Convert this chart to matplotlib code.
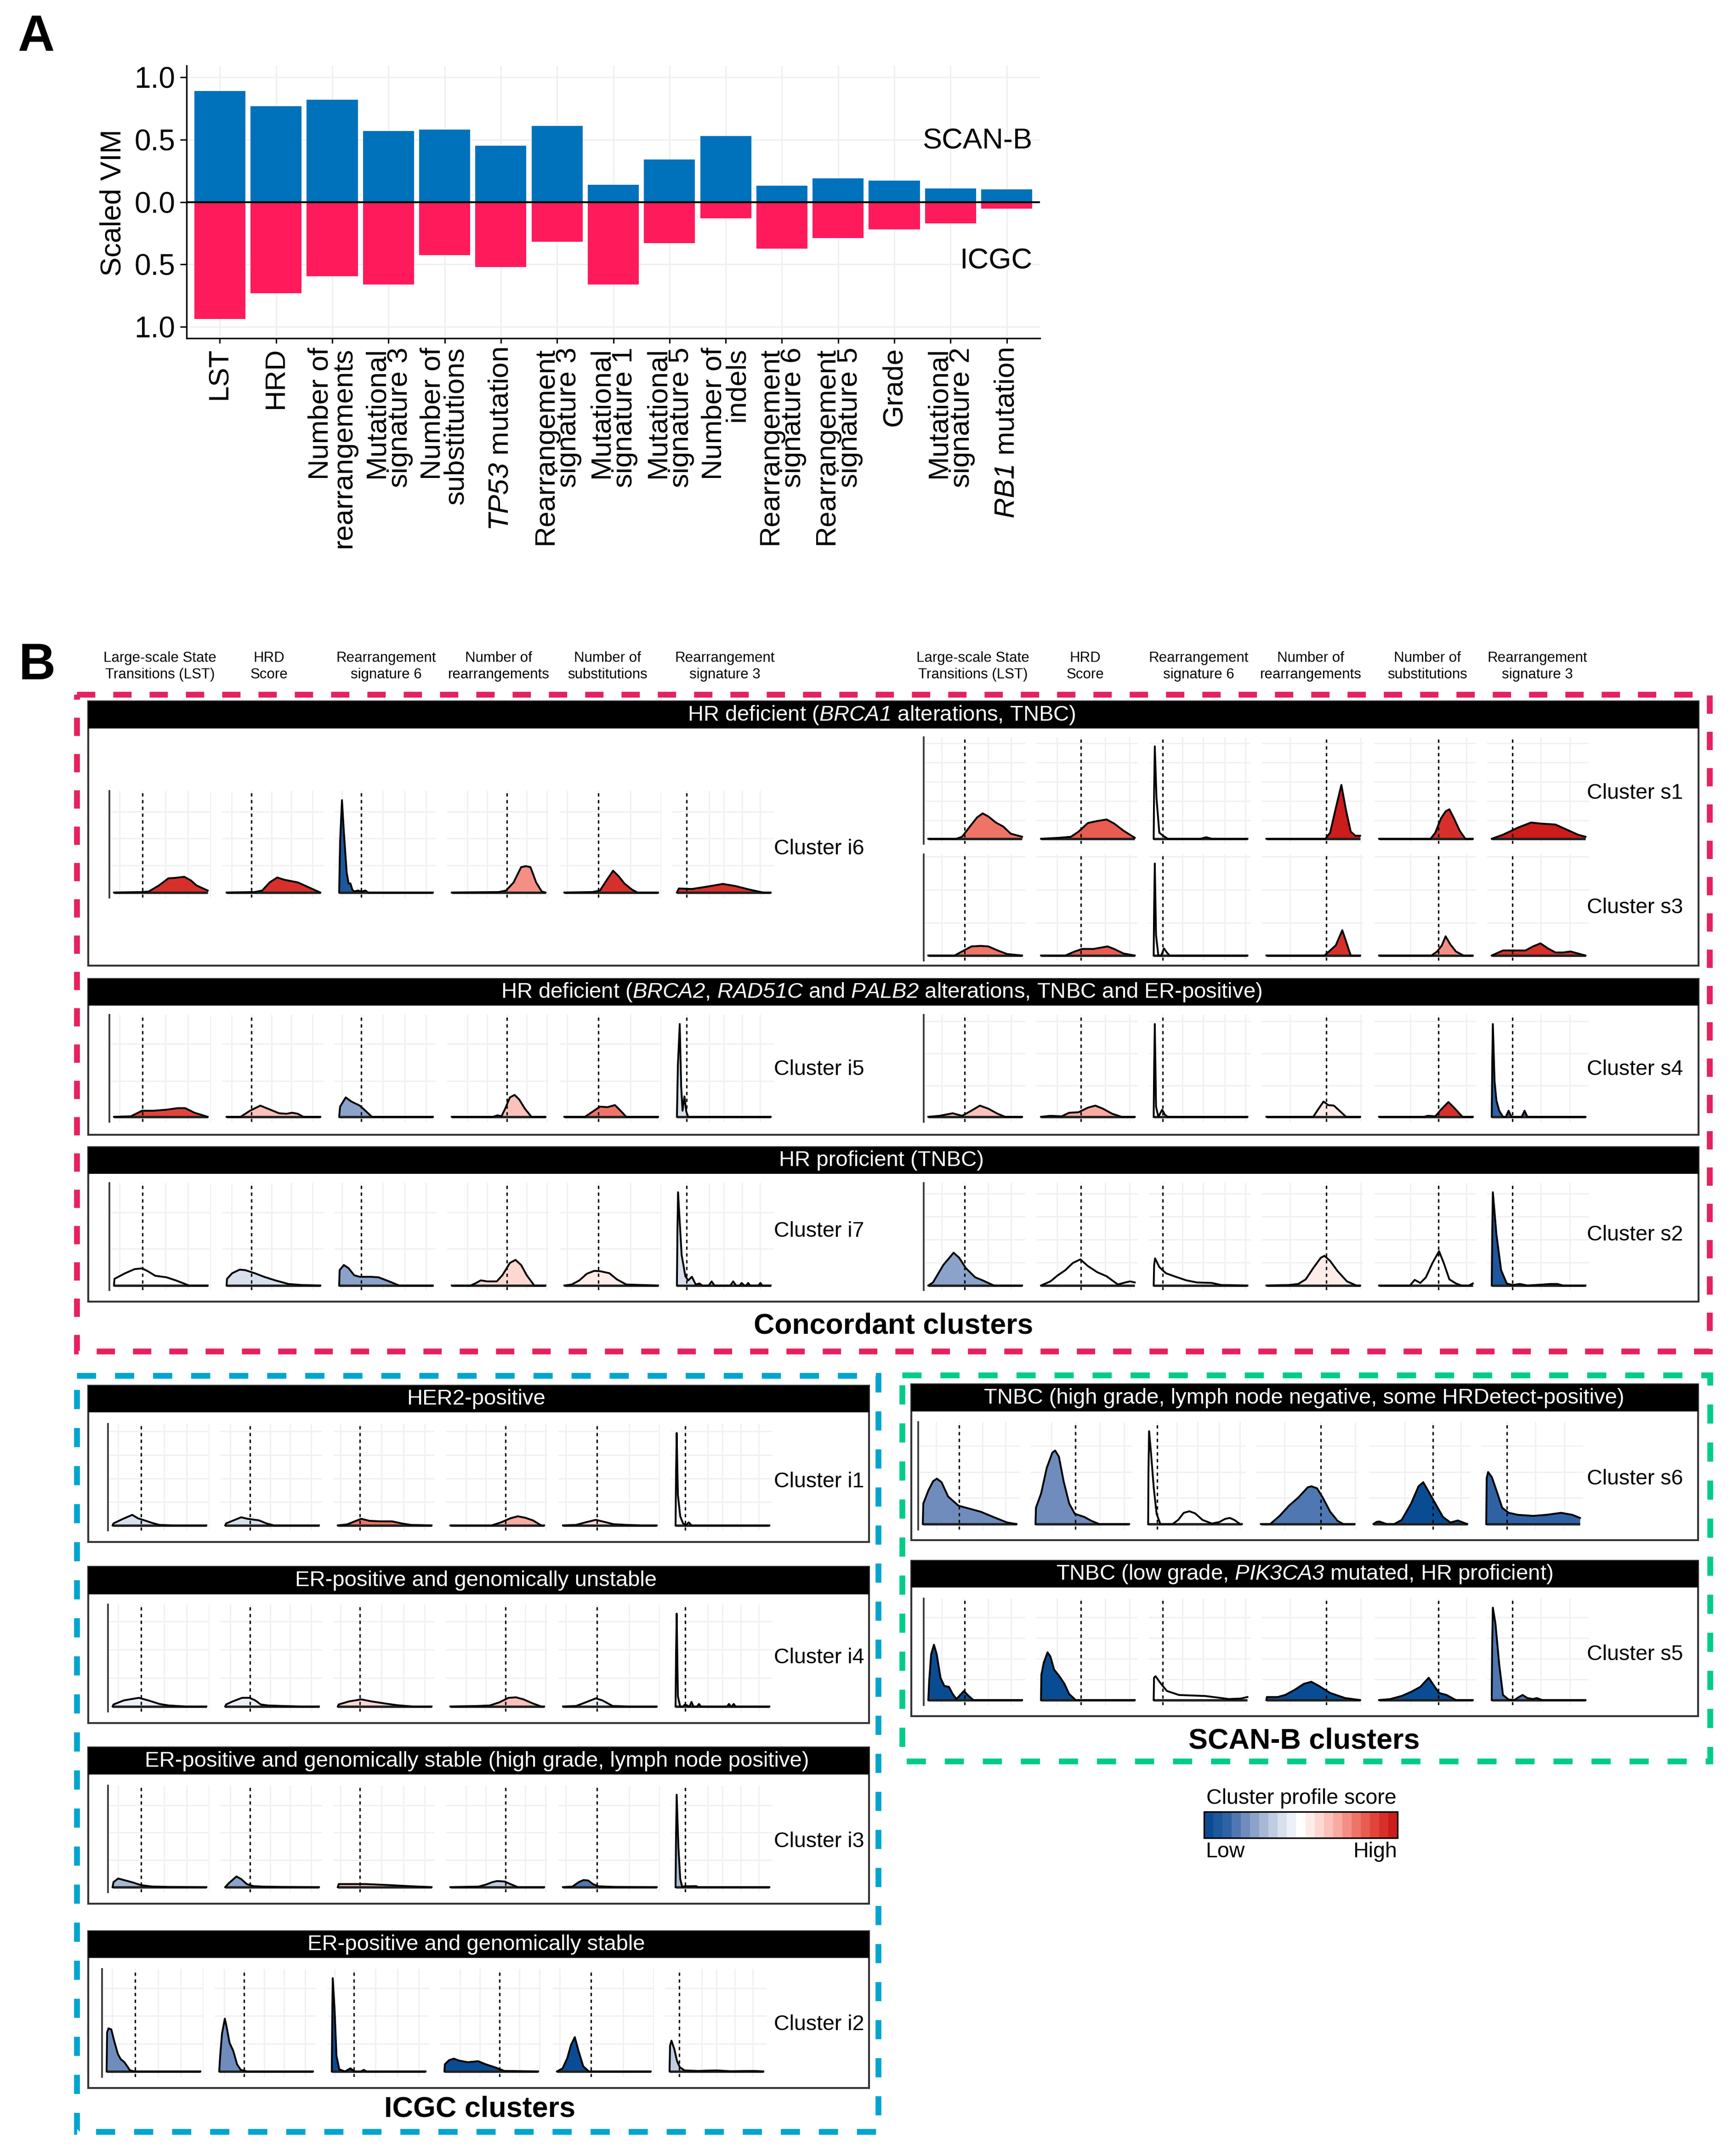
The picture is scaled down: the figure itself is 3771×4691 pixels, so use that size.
import matplotlib
matplotlib.use("Agg")
import matplotlib.pyplot as plt
from matplotlib.cm import ScalarMappable
from matplotlib.colors import LinearSegmentedColormap, Normalize
from matplotlib.patches import Rectangle

W, H = 3771, 4691
FONT = "Liberation Sans"

plt.rcParams["font.family"] = [FONT, "DejaVu Sans"]
plt.rcParams["mathtext.fontset"] = "custom"
plt.rcParams["mathtext.rm"] = FONT
plt.rcParams["mathtext.it"] = FONT + ":italic"
plt.rcParams["mathtext.cal"] = FONT + ":italic"

# --------------------------------------------------------------------------- #
# panel A values
# --------------------------------------------------------------------------- #
FEATURES = [
    "LST", "HRD", "Number of\nrearrangements", "Mutational\nsignature 3",
    "Number of\nsubstitutions", r"$\mathcal{TP53}$ mutation",
    "Rearrangement\nsignature 3", "Mutational\nsignature 1",
    "Mutational\nsignature 5", "Number of\nindels",
    "Rearrangement\nsignature 6", "Rearrangement\nsignature 5", "Grade",
    "Mutational\nsignature 2", r"$\mathcal{RB1}$ mutation",
]
SCANB_VIM = [0.89, 0.77, 0.82, 0.57, 0.58, 0.45, 0.61, 0.14, 0.34, 0.53, 0.13, 0.19, 0.17, 0.11, 0.10]
ICGC_VIM = [0.94, 0.73, 0.595, 0.66, 0.425, 0.52, 0.32, 0.66, 0.33, 0.13, 0.375, 0.29, 0.22, 0.17, 0.055]
VIM_TICKS = [-1.0, -0.5, 0.0, 0.5, 1.0]
VIM_TICK_LABELS = ["1.0", "0.5", "0.0", "0.5", "1.0"]

# --------------------------------------------------------------------------- #
# panel B values: column names, cutoffs, x gridlines (scaled x of one ridge)
# --------------------------------------------------------------------------- #
COLUMN_NAMES = [
    "Large-scale State\nTransitions (LST)", "HRD\nScore", "Rearrangement\nsignature 6",
    "Number of\nrearrangements", "Number of\nsubstitutions", "Rearrangement\nsignature 3",
]
CUTOFF_I = [0.304, 0.265, 0.235, 0.588, 0.363, 0.103]
CUTOFF_S = [0.387, 0.426, 0.098, 0.637, 0.632, 0.221]
XGRID_I = [
    [0.06, 0.304, 0.55, 0.79, 1.03], [0.054, 0.265, 0.48, 0.69, 0.917],
    [0.03, 0.235, 0.466, 0.70, 0.926], [0.167, 0.377, 0.588, 0.80, 1.015],
    [0.03, 0.363, 0.706, 1.03], [0.103, 0.343, 0.5, 0.696, 0.887],
]
XGRID_S = [
    [0.142, 0.387, 0.637, 0.882], [0.172, 0.426, 0.686, 0.946],
    [0.098, 0.309, 0.529, 0.76, 0.98], [0.25, 0.637, 1.005],
    [0.333, 0.632, 0.931], [0.221, 0.525, 0.833],
]

# cluster profile score per column, -1 (low) to 1 (high)
SCORE_I6 = [0.9, 0.9, -0.85, 0.5, 0.9, 0.9]
SCORE_I5 = [0.8, 0.3, -0.45, 0.3, 0.55, -0.2]
SCORE_I7 = [0.0, -0.18, -0.5, 0.2, 0.12, -0.22]
SCORE_I1 = [-0.2, -0.2, 0.6, 0.35, 0.2, -0.1]
SCORE_I4 = [-0.06, -0.08, 0.2, 0.32, -0.1, -0.15]
SCORE_I3 = [-0.4, -0.45, 0.25, -0.3, -0.7, -0.35]
SCORE_I2 = [-0.6, -0.55, -1.0, -0.95, -0.98, -0.25]
SCORE_S1 = [0.6, 0.65, 0.0, 0.95, 0.85, 0.95]
SCORE_S3 = [0.6, 0.7, 0.0, 0.85, 0.5, 0.85]
SCORE_S4 = [0.25, 0.35, 0.0, 0.05, 0.9, -0.8]
SCORE_S2 = [-0.45, 0.02, 0.0, 0.07, 0.0, -0.85]
SCORE_S6 = [-0.55, -0.6, 0.0, -0.7, -0.95, -0.75]
SCORE_S5 = [-1.0, -1.0, 0.0, -1.0, -1.0, -0.7]

# ridge outlines, one (x, density) pair per column
RIDGE_I6 = [
    ([0, .3, .37, .48, .58, .66, .75, .82, .88, 1], [0, .005, .01, .07, .14, .145, .155, .12, .07, .02]),
    ([0, .3, .38, .46, .54, .62, .76, .88, 1], [0, .005, .02, .1, .148, .125, .1, .05, 0]),
    ([0, .01, .03, .05, .08, .1, .12, .14, .16, .2, .24, .28, .31, 1], [0, .5, .91, .6, .2, .09, .09, .03, .01, .02, .01, .02, 0, 0]),
    ([0, .5, .58, .66, .74, .79, .84, .9, .96, 1], [0, .005, .02, .1, .25, .26, .25, .1, .01, 0]),
    ([0, .3, .38, .45, .52, .58, .64, .72, .78, 1], [0, .005, .02, .12, .215, .16, .09, .03, 0, 0]),
    ([0, .02, .16, .3, .49, .62, .77, .92, 1], [0, .04, .035, .055, .085, .065, .03, 0, 0]),
]
RIDGE_I5 = [
    ([0, .18, .3, .42, .56, .68, .76, .86, 1], [0, .005, .06, .06, .07, .085, .085, .04, 0]),
    ([0, .15, .25, .36, .44, .56, .64, .7, .76, .82, 1], [0, 0, .06, .11, .08, .035, .03, .04, .03, 0, 0]),
    ([0, .01, .07, .13, .22, .28, .35, 1], [0, .1, .19, .15, .11, .06, 0, 0]),
    ([0, .44, .49, .53, .57, .62, .67, .72, .78, .85, 1], [0, 0, .015, .005, .08, .19, .215, .17, .08, 0, 0]),
    ([0, .22, .3, .38, .46, .54, .6, .66, 1], [0, 0, .05, .1, .095, .115, .06, 0, 0]),
    ([0, .01, .03, .045, .06, .08, .1, .12, 1], [0, .5, .91, .3, .06, .2, .05, 0, 0]),
]
RIDGE_I7 = [
    ([0, .005, .12, .22, .3, .36, .44, .56, .66, .8, 1], [0, .065, .12, .16, .167, .14, .095, .08, .05, 0, 0]),
    ([0, .005, .06, .14, .2, .3, .4, .52, .66, .8, 1], [0, .065, .12, .155, .15, .12, .085, .05, .015, .005, 0]),
    ([0, .005, .05, .1, .16, .22, .34, .42, .52, .64, 1], [0, .15, .2, .17, .1, .085, .085, .08, .045, 0, 0]),
    ([0, .2, .25, .31, .38, .48, .54, .62, .68, .74, .8, .88, 1], [0, 0, .02, .05, .04, .04, .1, .22, .25, .2, .1, 0, 0]),
    ([0, .08, .16, .24, .32, .38, .48, .56, .66, 1], [0, .01, .05, .115, .143, .14, .12, .06, .01, 0]),
    ([0, .005, .012, .05, .09, .12, .16, .2, .24, .27, .34, .37, .4, .57, .6, .63, .67, .69, .72, .74, .76, .78, .87, .89, .91, 1],
     [0, .5, .91, .3, .09, .05, .085, .01, .02, 0, 0, .04, 0, 0, .04, 0, 0, .025, 0, 0, .025, 0, 0, .025, 0, 0]),
]
RIDGE_I1 = [
    ([0, .01, .1, .21, .27, .34, .42, .5, .64, 1], [0, .02, .06, .104, .07, .05, .025, .005, 0, 0]),
    ([0, .01, .09, .17, .24, .36, .44, .52, 1], [0, .02, .05, .08, .065, .05, .02, 0, 0]),
    ([0, .1, .18, .25, .34, .46, .58, .68, .78, 1], [0, .01, .04, .065, .045, .04, .04, .02, .005, 0]),
    ([0, .44, .54, .64, .72, .8, .88, .97, 1], [0, 0, .03, .07, .09, .075, .05, 0, 0]),
    ([0, .14, .24, .35, .44, .54, .68, .84, 1], [0, .005, .03, .055, .035, .012, .005, 0, 0]),
    ([0, .005, .012, .025, .05, .08, .11, .14, .17, 1], [0, .5, .91, .3, .09, .02, 0, .03, 0, 0]),
]
RIDGE_I4 = [
    ([0, .01, .12, .28, .38, .5, .6, .78, 1], [0, .02, .06, .085, .06, .025, .01, 0, 0]),
    ([0, .01, .08, .18, .26, .32, .38, .46, .62, .8, 1], [0, .02, .05, .085, .085, .06, .02, .01, .005, 0, 0]),
    ([0, .01, .12, .25, .36, .5, .64, .8, 1], [0, .02, .05, .07, .05, .03, .012, 0, 0]),
    ([0, .28, .42, .52, .62, .7, .78, .88, .97, 1], [0, .005, .01, .04, .085, .09, .07, .03, 0, 0]),
    ([0, .14, .24, .35, .42, .53, .7, 1], [0, .005, .04, .08, .06, .005, 0, 0]),
    ([0, .005, .012, .025, .05, .08, .1, .15, .17, .19, .23, .25, .27, .55, .57, .59, .6, .62, .64, 1],
     [0, .5, .91, .1, 0, 0, .02, 0, .045, 0, 0, .025, 0, 0, .025, 0, 0, .025, 0, 0]),
]
RIDGE_I3 = [
    ([0, .01, .06, .14, .22, .3, .42, .6, 1], [0, .05, .085, .065, .045, .02, .006, .002, 0]),
    ([0, .04, .12, .17, .23, .3, .4, .6, 1], [0, .04, .105, .08, .03, .01, .005, .002, 0]),
    ([0, .01, .3, .55, .8, 1], [0, .03, .03, .02, .008, 0]),
    ([0, .3, .38, .45, .5, .58, .64, .72, 1], [0, .005, .025, .05, .06, .055, .03, 0, 0]),
    ([0, .1, .17, .22, .27, .32, .38, .55, 1], [0, .005, .05, .07, .065, .03, .008, .002, 0]),
    ([0, .005, .012, .03, .05, .07, .1, .22, .24, 1], [0, .5, .91, .4, .08, .005, .008, .01, 0, 0]),
]
RIDGE_I2 = [
    ([0, .005, .02, .05, .08, .12, .15, .19, .25, .3, 1], [0, .38, .42, .41, .3, .17, .12, .09, .01, 0, 0]),
    ([0, .01, .03, .06, .08, .11, .15, .19, .23, .3, 1], [0, .15, .37, .515, .43, .28, .2, .07, .015, 0, 0]),
    ([0, .004, .01, .03, .05, .08, .14, .2, .24, .31, .34, .37, 1], [0, .5, .91, .6, .15, .02, 0, .03, 0, 0, .015, 0, 0]),
    ([0, .005, .05, .1, .16, .25, .36, .44, .54, .64, 1], [0, .07, .11, .125, .105, .09, .1, .07, .04, .005, 0]),
    ([0, .02, .06, .11, .15, .19, .23, .28, .34, 1], [0, .01, .03, .13, .26, .335, .2, .05, 0, 0]),
    ([0, .005, .02, .05, .08, .11, .16, .3, .5, .65, .9, 1], [0, .25, .3, .22, .1, .04, .01, .005, .01, .002, .005, 0]),
]
RIDGE_S1 = [
    ([0, .3, .36, .46, .52, .58, .64, .72, .8, .88, 1], [0, 0, .02, .14, .21, .25, .22, .16, .12, .05, .02]),
    ([0, .2, .32, .4, .5, .6, .7, .78, .88, 1], [0, .01, .02, .07, .155, .175, .19, .15, .08, .01]),
    ([0, .005, .012, .03, .06, .1, .15, .5, .56, .62, 1], [0, .5, .91, .4, .06, .03, 0, 0, .015, 0, 0]),
    ([0, .63, .68, .74, .8, .85, .9, .95, 1], [0, 0, .06, .3, .53, .28, .07, .03, .03]),
    ([0, .55, .6, .66, .71, .75, .8, .86, .92, 1], [0, 0, .06, .2, .27, .29, .2, .08, 0, 0]),
    ([0, .12, .28, .42, .52, .68, .8, .92, 1], [0, .04, .11, .16, .15, .14, .09, .04, .02]),
]
RIDGE_S3 = [
    ([0, .28, .36, .46, .56, .64, .74, .84, 1], [0, 0, .04, .09, .095, .09, .05, .015, 0]),
    ([0, .26, .36, .44, .56, .65, .71, .78, .88, 1], [0, 0, .04, .065, .065, .08, .09, .065, .02, 0]),
    ([0, .005, .012, .025, .05, .08, .11, .14, .17, 1], [0, .5, .91, .2, 0, 0, .07, .03, 0, 0]),
    ([0, .62, .68, .74, .81, .85, .9, 1], [0, 0, .05, .1, .25, .14, 0, 0]),
    ([0, .56, .62, .67, .71, .76, .82, .9, 1], [0, 0, .04, .1, .19, .11, .04, 0, 0]),
    ([0, .12, .24, .36, .44, .52, .6, .68, .76, .84, .92, 1], [0, .05, .05, .05, .09, .12, .07, .03, .03, .04, .02, 0]),
]
RIDGE_S4 = [
    ([0, .12, .26, .36, .44, .55, .64, .74, .82, 1], [0, .01, .035, .01, .05, .11, .08, .03, 0, 0]),
    ([0, .1, .22, .3, .4, .5, .58, .66, .76, .86, 1], [0, .01, .005, .04, .045, .09, .11, .08, .03, 0, 0]),
    ([0, .005, .012, .025, .05, .09, .12, .15, 1], [0, .5, .91, .1, 0, .07, .02, 0, 0]),
    ([0, .5, .55, .61, .66, .72, .78, .85, 1], [0, 0, .07, .15, .115, .11, .06, 0, 0]),
    ([0, .48, .52, .6, .66, .74, .8, .89, 1], [0, 0, .01, .005, .07, .145, .09, 0, 0]),
    ([0, .005, .012, .03, .05, .08, .12, .15, .18, .21, .32, .35, .38, 1], [0, .5, .91, .35, .16, .06, 0, 0, .06, 0, 0, .06, 0, 0]),
]
RIDGE_S2 = [
    ([0, .05, .16, .27, .33, .4, .5, .58, .7, 1], [0, .03, .2, .32, .27, .17, .08, .05, 0, 0]),
    ([0, .1, .18, .26, .34, .42, .5, .6, .7, .82, .9, .95, 1], [0, .04, .1, .15, .22, .255, .19, .13, .09, .01, .03, .04, .03]),
    ([0, .005, .015, .06, .13, .22, .35, .46, .62, .72, 1], [0, .2, .265, .18, .12, .09, .05, .03, .025, .005, 0]),
    ([0, .24, .34, .42, .5, .58, .62, .68, .76, .86, .96, 1], [0, .005, .015, .06, .17, .27, .29, .24, .14, .04, 0, 0]),
    ([0, .33, .38, .44, .5, .57, .64, .69, .75, .82, .88, .96, 1], [0, 0, .055, .025, .08, .22, .335, .22, .06, .02, 0, 0, .02]),
    ([0, .005, .012, .05, .1, .16, .22, .3, .38, .55, .62, .7, .76, 1], [0, .5, .91, .5, .15, .02, .005, .015, 0, .01, .015, .015, 0, 0]),
]
RIDGE_S6 = [
    ([0, .005, .06, .11, .15, .2, .27, .38, .5, .62, .75, .9, 1], [0, .2, .33, .42, .445, .41, .27, .18, .15, .12, .07, .015, 0]),
    ([0, .005, .06, .12, .18, .21, .25, .3, .36, .42, .52, .6, .68, 1], [0, .16, .3, .55, .7, .72, .66, .42, .2, .1, .07, .03, 0, 0]),
    ([0, .003, .01, .03, .06, .09, .13, .26, .32, .38, .44, .5, .58, .68, .76, .82, .87, .92, .98, 1],
     [0, .5, .91, .7, .35, .1, 0, 0, .04, .11, .125, .105, .04, .005, .02, .05, .06, .04, 0, 0]),
    ([0, .1, .2, .3, .4, .5, .54, .6, .66, .74, .82, .88, 1], [0, 0, .08, .18, .26, .36, .37, .35, .26, .12, .03, 0, 0]),
    ([0, .03, .06, .14, .22, .3, .4, .48, .53, .58, .66, .74, .82, .9, .97, 1], [0, .02, .025, 0, 0, .04, .2, .37, .41, .33, .2, .07, .015, .035, .01, 0]),
    ([0, .005, .02, .06, .12, .17, .24, .34, .5, .64, .8, .92, 1], [0, .45, .51, .46, .3, .16, .11, .09, .08, .09, .11, .09, .06]),
]
RIDGE_S5 = [
    ([0, .01, .03, .06, .09, .13, .17, .22, .26, .3, .34, .38, .42, .48, 1], [0, .2, .45, .545, .45, .22, .14, .13, .06, .01, .05, .09, .05, 0, 0]),
    ([0, .004, .03, .07, .1, .14, .2, .25, .3, .37, 1], [0, .25, .37, .47, .43, .3, .23, .16, .06, 0, 0]),
    ([0, .004, .02, .07, .14, .27, .55, .68, .8, .93, 1], [0, .22, .235, .17, .09, .05, .04, .025, .01, .015, .03]),
    ([0, .005, .12, .2, .3, .4, .48, .56, .68, .84, 1], [0, .03, .03, .05, .1, .16, .18, .14, .07, .02, 0]),
    ([0, .12, .24, .34, .44, .53, .58, .64, .72, .82, 1], [0, .01, .04, .08, .13, .22, .15, .07, .05, 0, 0]),
    ([0, .004, .012, .04, .08, .12, .18, .24, .29, .33, .38, .44, .48, .54, 1], [0, .5, .91, .75, .35, .05, .005, 0, .03, .05, .02, .01, .02, 0, 0]),
]

# profile colours, stepped like the legend
PROFILE_COLOURS = ["#0a4c93", "#2f62a4", "#6f8cbd", "#a7b8d6", "#d8e0ee", "#ffffff",
                   "#fdd8d2", "#f9aaa1", "#ef7468", "#e2443a", "#cc1c1c"]
PROFILE_CMAP = LinearSegmentedColormap.from_list("profile", PROFILE_COLOURS, N=21)
PROFILE_NORM = Normalize(-1, 1)

# --------------------------------------------------------------------------- #
# layout, in pixels of the output picture
# --------------------------------------------------------------------------- #
CELL_W = 204
CELL_STEP_I, CELL_STEP_S = 245.0, 245.2
CELL_X_I, CELL_X_S = 248, 2020
XLO, XHI = -0.05, 1.035
PINK, CYAN, GREEN = "#e5215f", "#00a5cf", "#00cc88"

fig = plt.figure(figsize=(W / 100, H / 100), dpi=100)


def px_axes(left, top, width, height):
    return fig.add_axes([left / W, 1 - (top + height) / H, width / W, height / H])


canvas = px_axes(0, 0, W, H)
canvas.set_xlim(0, W)
canvas.set_ylim(H, 0)
canvas.axis("off")


def dashed_box(x0, y0, x1, y1, color, dash=3.15, gap=3.1):
    canvas.add_patch(Rectangle((x0, y0), x1 - x0, y1 - y0, fill=False, edgecolor=color,
                               linewidth=9.1, linestyle=(0, (dash, gap)), capstyle="butt"))


def strip_panel(x0, x1, head_top, head_bot, bottom, title, title_x=None):
    canvas.add_patch(Rectangle((x0, head_top), x1 - x0, bottom - head_top, fill=False,
                               edgecolor="#333333", linewidth=3.0))
    canvas.add_patch(Rectangle((x0, head_top), x1 - x0, head_bot - head_top,
                               facecolor="black", edgecolor="none"))
    center = (x0 + x1) / 2 if title_x is None else title_x
    canvas.text(center, (head_top + head_bot) / 2, title, color="white",
                fontsize=34, ha="center", va="center")


def ridge_row(ridges, scores, label, label_y, side, shift, top, bottom, base, ygrid):
    """One row of six ridges; side picks the cutoffs and the column positions."""
    if side == "i":
        x0, step, cutoffs, xgrid, label_x = CELL_X_I + shift, CELL_STEP_I, CUTOFF_I, XGRID_I, 1684
    else:
        x0, step, cutoffs, xgrid, label_x = CELL_X_S + shift, CELL_STEP_S, CUTOFF_S, XGRID_S, 3453
    span = base - top
    for i, (xs, ys) in enumerate(ridges):
        left = x0 + i * step + XLO * CELL_W
        ax = px_axes(left, top, (XHI - XLO) * CELL_W, bottom - top)
        ax.set_facecolor("none")
        ax.set_xlim(XLO, XHI)
        ax.set_ylim(-(bottom - base) / span, 1)
        ax.set_xticks(xgrid[i])
        ax.set_yticks([(base - g) / span for g in ygrid])
        ax.grid(True, color="#f1f1f1", linewidth=2.2)
        ax.set_axisbelow(True)
        ax.tick_params(length=0, labelbottom=False, labelleft=False)
        for name, spine in ax.spines.items():
            spine.set_visible(name == "left" and i == 0)
            spine.set_color("#333333")
            spine.set_linewidth(2.6)
        ax.fill_between(xs, ys, 0, color=PROFILE_CMAP(PROFILE_NORM(scores[i])), linewidth=0)
        ax.axvline(cutoffs[i], color="black", linewidth=2.3, linestyle=(0, (2.2, 2.4)))
        ax.hlines(0, 0, 1, color="#222222", linewidth=3.8)
        ax.plot(xs, ys, color="black", linewidth=2.9, solid_joinstyle="round")
    canvas.text(label_x, label_y, label, fontsize=33.5, ha="left", va="center")


# --------------------------------------------------------------------------- #
# panel A
# --------------------------------------------------------------------------- #
canvas.text(38, 110, "A", fontsize=80, fontweight="bold", ha="left", va="baseline")

ax_a = px_axes(406, 143, 2263 - 406, 736 - 143)
ax_a.set_facecolor("none")
positions = list(range(len(FEATURES)))
ax_a.bar(positions, SCANB_VIM, width=0.91, color="#0072bc", zorder=2)
ax_a.bar(positions, [-v for v in ICGC_VIM], width=0.91, color="#ff1a5c", zorder=2)
ax_a.axhline(0, color="black", linewidth=3.0, zorder=3)
ax_a.set_xlim(-0.59, 14.59)
ax_a.set_ylim(-1.093, 1.093)
ax_a.set_yticks(VIM_TICKS)
ax_a.set_yticklabels(VIM_TICK_LABELS, fontsize=46, va="center_baseline")
ax_a.set_xticks(positions)
ax_a.set_xticklabels(FEATURES, fontsize=44.5, rotation=90, ha="center", va="top",
                     ma="right", linespacing=0.85)
ax_a.tick_params(axis="y", length=10, width=2.2, pad=8)
ax_a.tick_params(axis="x", length=8, width=2.2, pad=6)
ax_a.grid(True, color="#f0f0f0", linewidth=2.2)
ax_a.set_axisbelow(True)
for name in ("top", "right"):
    ax_a.spines[name].set_visible(False)
for name in ("left", "bottom"):
    ax_a.spines[name].set_linewidth(2.4)
ax_a.text(14.45, 0.49, "SCAN-B", fontsize=45.5, ha="right", va="center")
ax_a.text(14.45, -0.475, "ICGC", fontsize=45.5, ha="right", va="center")
canvas.text(246, 441, "Scaled VIM", fontsize=45, rotation=90, ha="center", va="center")

# --------------------------------------------------------------------------- #
# panel B: frames and titles first, canvas stays underneath the ridges
# --------------------------------------------------------------------------- #
canvas.text(41, 1478, "B", fontsize=80, fontweight="bold", ha="left", va="baseline")
for center, name in zip([348, 585, 840, 1085, 1322, 1577], COLUMN_NAMES):
    canvas.text(center, 1450, name, fontsize=22.5, ha="center", va="center", linespacing=1.25)
for center, name in zip([2117, 2361, 2608, 2852, 3106, 3345], COLUMN_NAMES):
    canvas.text(center, 1450, name, fontsize=22.5, ha="center", va="center", linespacing=1.25)

dashed_box(167, 1511, 3720, 2940, PINK)
dashed_box(167, 2993, 1911, 4638, CYAN, dash=3.3, gap=3.25)
dashed_box(1963, 2992, 3721, 3832, GREEN, dash=3.3, gap=3.25)

strip_panel(192, 3696, 1526, 1585, 2101, r"HR deficient ($\mathcal{BRCA1}$ alterations, TNBC)", 1918)
strip_panel(192, 3696, 2130, 2188, 2469,
            r"HR deficient ($\mathcal{BRCA2}$, $\mathcal{RAD51C}$ and $\mathcal{PALB2}$ alterations, TNBC and ER-positive)", 1918)
strip_panel(192, 3696, 2496, 2554, 2832, "HR proficient (TNBC)", 1918)
strip_panel(192, 1891, 3015, 3073, 3355, "HER2-positive", 1036)
strip_panel(192, 1891, 3409, 3469, 3749, "ER-positive and genomically unstable", 1036)
strip_panel(192, 1891, 3802, 3861, 4142, "ER-positive and genomically stable (high grade, lymph node positive)", 1038)
strip_panel(192, 1891, 4202, 4260, 4543, "ER-positive and genomically stable", 1036)
strip_panel(1983, 3695, 3012, 3071, 3351, "TNBC (high grade, lymph node negative, some HRDetect-positive)", 2838)
strip_panel(1983, 3695, 3396, 3454, 3734, r"TNBC (low grade, $\mathcal{PIK3CA3}$ mutated, HR proficient)", 2838)

canvas.text(1944, 2885, "Concordant clusters", fontsize=45, fontweight="bold", ha="center", va="center")
canvas.text(1044, 4589, "ICGC clusters", fontsize=45.3, fontweight="bold", ha="center", va="center")
canvas.text(2838, 3788, "SCAN-B clusters", fontsize=45.3, fontweight="bold", ha="center", va="center")

ridge_row(RIDGE_I6, SCORE_I6, "Cluster i6", 1847, "i", 0, 1721, 1953, 1942, [1766, 1824, 1883])
ridge_row(RIDGE_I5, SCORE_I5, "Cluster i5", 2327, "i", 0, 2208, 2441, 2430, [2271, 2352])
ridge_row(RIDGE_I7, SCORE_I7, "Cluster i7", 2679, "i", 0, 2574, 2807, 2797, [2638, 2717])
ridge_row(RIDGE_I1, SCORE_I1, "Cluster i1", 3224, "i", -3, 3098, 3330, 3319, [3114, 3166, 3217, 3268])
ridge_row(RIDGE_I4, SCORE_I4, "Cluster i4", 3607, "i", -3, 3491, 3724, 3713, [3528, 3589, 3651])
ridge_row(RIDGE_I3, SCORE_I3, "Cluster i3", 4007, "i", -3, 3885, 4117, 4106, [3928, 3987, 4047])
ridge_row(RIDGE_I2, SCORE_I2, "Cluster i2", 4405, "i", -16, 4284, 4519, 4507, [4326, 4386, 4447])
ridge_row(RIDGE_S1, SCORE_S1, "Cluster s1", 1726, "s", 0, 1604, 1836, 1825, [1617, 1659, 1701, 1743, 1785])
ridge_row(RIDGE_S3, SCORE_S3, "Cluster s3", 1975, "s", 0, 1859, 2090, 2079, [1864, 1936, 2008])
ridge_row(RIDGE_S4, SCORE_S4, "Cluster s4", 2327, "s", 0, 2208, 2441, 2430, [2222, 2292, 2362])
ridge_row(RIDGE_S2, SCORE_S2, "Cluster s2", 2687, "s", 0, 2574, 2807, 2797, [2597, 2647, 2697, 2747])
ridge_row(RIDGE_S6, SCORE_S6, "Cluster s6", 3218, "s", -12, 3094, 3328, 3316, [3146, 3203, 3259])
ridge_row(RIDGE_S5, SCORE_S5, "Cluster s5", 3600, "s", 0, 3478, 3710, 3699, [3519, 3564, 3609, 3654])

# legend
cax = px_axes(2620, 3942, 421, 57)
cbar = fig.colorbar(ScalarMappable(norm=PROFILE_NORM, cmap=PROFILE_CMAP), cax=cax, orientation="horizontal")
cbar.set_ticks([])
cbar.outline.set_linewidth(2.4)
canvas.text(2832, 3913, "Cluster profile score", fontsize=33.5, ha="center", va="center")
canvas.text(2623, 4029, "Low", fontsize=33.5, ha="left", va="center")
canvas.text(3040, 4029, "High", fontsize=33.5, ha="right", va="center")

fig.savefig("out.png", dpi=100)
